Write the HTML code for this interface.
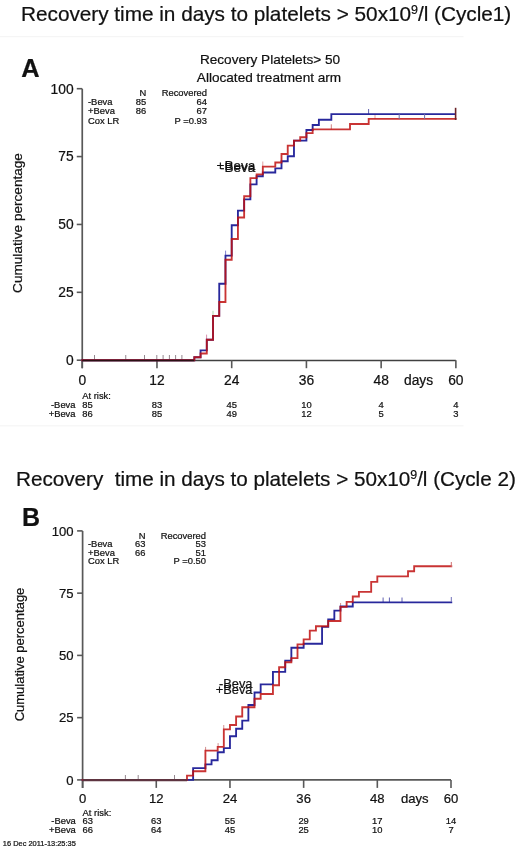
<!DOCTYPE html><html><head><meta charset="utf-8"><style>html,body{margin:0;padding:0;background:#fff;}svg{display:block;will-change:transform;}text{font-family:"Liberation Sans",sans-serif;fill:#111;stroke:#111;stroke-width:0.22px;}</style></head><body>
<svg width="520" height="848" viewBox="0 0 520 848">
<rect x="0" y="36" width="463.5" height="1.2" fill="#f5f5f5"/>
<rect x="0" y="425.2" width="463.5" height="1.2" fill="#f5f5f5"/>
<text x="21" y="20.8" font-size="20.8" textLength="490.3" lengthAdjust="spacing" xml:space="preserve">Recovery time in days to platelets &gt; 50x10<tspan font-size="12.48" dy="-6.6">9</tspan><tspan dy="6.6">/l (Cycle1)</tspan></text>
<text x="16" y="485.8" font-size="20.7" textLength="499.8" lengthAdjust="spacing" xml:space="preserve">Recovery  time in days to platelets &gt; 50x10<tspan font-size="12.42" dy="-6.6">9</tspan><tspan dy="6.6">/l (Cycle 2)</tspan></text>
<text x="21.3" y="77.2" font-size="25.4" font-weight="bold">A</text>
<text x="22.0" y="526.4" font-size="25" font-weight="bold">B</text>
<path d="M82.25,88.70 V368.20" fill="none" stroke="#585858" stroke-width="1.7"/>
<path d="M82.25,360.55 H455.87" fill="none" stroke="#404040" stroke-width="1.5"/>
<path d="M76.75,360.20 H82.25" stroke="#585858" stroke-width="1.6"/>
<text x="73.60" y="365.00" font-size="13.8" text-anchor="end">0</text>
<path d="M76.75,292.32 H82.25" stroke="#585858" stroke-width="1.6"/>
<text x="73.60" y="297.12" font-size="13.8" text-anchor="end">25</text>
<path d="M76.75,224.45 H82.25" stroke="#585858" stroke-width="1.6"/>
<text x="73.60" y="229.25" font-size="13.8" text-anchor="end">50</text>
<path d="M76.75,156.57 H82.25" stroke="#585858" stroke-width="1.6"/>
<text x="73.60" y="161.38" font-size="13.8" text-anchor="end">75</text>
<path d="M76.75,88.70 H82.25" stroke="#585858" stroke-width="1.6"/>
<text x="73.60" y="93.50" font-size="13.8" text-anchor="end">100</text>
<path d="M82.25,360.20 V368.20" stroke="#585858" stroke-width="1.6"/>
<text x="82.25" y="385.10" font-size="13.8" text-anchor="middle">0</text>
<path d="M156.97,360.20 V368.20" stroke="#585858" stroke-width="1.6"/>
<text x="156.97" y="385.10" font-size="13.8" text-anchor="middle">12</text>
<path d="M231.70,360.20 V368.20" stroke="#585858" stroke-width="1.6"/>
<text x="231.70" y="385.10" font-size="13.8" text-anchor="middle">24</text>
<path d="M306.42,360.20 V368.20" stroke="#585858" stroke-width="1.6"/>
<text x="306.42" y="385.10" font-size="13.8" text-anchor="middle">36</text>
<path d="M381.15,360.20 V368.20" stroke="#585858" stroke-width="1.6"/>
<text x="381.15" y="385.10" font-size="13.8" text-anchor="middle">48</text>
<path d="M455.87,360.20 V368.20" stroke="#585858" stroke-width="1.6"/>
<text x="455.87" y="385.10" font-size="13.8" text-anchor="middle">60</text>
<text x="404.00" y="385.10" font-size="13.8">days</text>
<text x="0" y="0" font-size="13.6" text-anchor="middle" transform="translate(21.5,223) rotate(-90)">Cumulative percentage</text>
<text x="270" y="64" font-size="13.6" text-anchor="middle">Recovery Platelets&gt; 50</text>
<text x="269" y="81.7" font-size="13.6" text-anchor="middle">Allocated treatment arm</text>
<text x="146.2" y="95.75" font-size="9.4" text-anchor="end">N</text>
<text x="207.0" y="95.75" font-size="9.4" text-anchor="end">Recovered</text>
<text x="88" y="105.00" font-size="9.4">-Beva</text>
<text x="146.2" y="105.00" font-size="9.4" text-anchor="end">85</text>
<text x="207.0" y="105.00" font-size="9.4" text-anchor="end">64</text>
<text x="88" y="114.25" font-size="9.4">+Beva</text>
<text x="146.2" y="114.25" font-size="9.4" text-anchor="end">86</text>
<text x="207.0" y="114.25" font-size="9.4" text-anchor="end">67</text>
<text x="88" y="123.50" font-size="9.4">Cox LR</text>
<text x="207.0" y="123.50" font-size="9.4" text-anchor="end">P =0.93</text>
<text x="82.25" y="398.60" font-size="9.4">At risk:</text>
<text x="75.50" y="407.60" font-size="9.4" text-anchor="end">-Beva</text>
<text x="82.25" y="407.60" font-size="9.4">85</text>
<text x="156.97" y="407.60" font-size="9.4" text-anchor="middle">83</text>
<text x="231.70" y="407.60" font-size="9.4" text-anchor="middle">45</text>
<text x="306.42" y="407.60" font-size="9.4" text-anchor="middle">10</text>
<text x="381.15" y="407.60" font-size="9.4" text-anchor="middle">4</text>
<text x="455.87" y="407.60" font-size="9.4" text-anchor="middle">4</text>
<text x="75.50" y="416.60" font-size="9.4" text-anchor="end">+Beva</text>
<text x="82.25" y="416.60" font-size="9.4">86</text>
<text x="156.97" y="416.60" font-size="9.4" text-anchor="middle">85</text>
<text x="231.70" y="416.60" font-size="9.4" text-anchor="middle">49</text>
<text x="306.42" y="416.60" font-size="9.4" text-anchor="middle">12</text>
<text x="381.15" y="416.60" font-size="9.4" text-anchor="middle">5</text>
<text x="455.87" y="416.60" font-size="9.4" text-anchor="middle">3</text>
<path d="M94.5,355 V360" stroke="#958890" stroke-width="1"/>
<path d="M125.75,355 V360" stroke="#958890" stroke-width="1"/>
<path d="M144.5,355 V360" stroke="#958890" stroke-width="1"/>
<path d="M156.8,355 V360" stroke="#958890" stroke-width="1"/>
<path d="M163.1,355 V360" stroke="#958890" stroke-width="1"/>
<path d="M169.4,355 V360" stroke="#958890" stroke-width="1"/>
<path d="M175.6,355 V360" stroke="#958890" stroke-width="1"/>
<path d="M181.9,355 V360" stroke="#958890" stroke-width="1"/>
<path d="M206.6,334.6 V339.6" stroke="#d890b0" stroke-width="1"/>
<path d="M213.0,310.8 V315.8" stroke="#b0d8b0" stroke-width="1"/>
<path d="M225.6,250.6 V255.6" stroke="#8080d0" stroke-width="1"/>
<path d="M262.8,161.5 V166.6" stroke="#e0a0a0" stroke-width="1"/>
<path d="M331.3,124.3 V129.3" stroke="#d08080" stroke-width="1"/>
<path d="M368.6,109 V114.1" stroke="#6060b0" stroke-width="1"/>
<path d="M375.0,114 V118.9" stroke="#e0a0a0" stroke-width="1"/>
<path d="M82.25,360.20 H194.34 V357.20 H200.56 V350.40 H206.79 V339.70 H213.02 V315.90 H219.24 V283.75 H225.47 V255.60 H231.70 V225.25 H237.93 V210.60 H244.15 V199.40 H250.38 V184.40 H256.61 V176.25 H262.83 V172.50 H275.29 V168.30 H281.51 V161.25 H287.74 V156.25 H293.97 V140.60 H306.42 V130.00 H312.65 V125.00 H318.88 V119.75 H331.33 V114.10 H455.00" fill="none" stroke="#28289c" stroke-width="1.85" stroke-linejoin="miter" stroke-linecap="square"/>
<path d="M82.25,360.20 H194.34 V357.20 H200.56 V353.50 H206.79 V339.70 H213.02 V315.90 H219.24 V302.00 H225.47 V259.75 H231.70 V239.00 H237.93 V217.50 H244.15 V196.25 H250.38 V178.10 H256.61 V174.40 H262.83 V166.60 H275.29 V162.50 H281.51 V154.00 H287.74 V145.60 H293.97 V140.60 H300.20 V137.25 H306.42 V133.10 H312.65 V129.30 H350.01 V124.00 H368.69 V118.90 H455.60" fill="none" stroke="#c01010" stroke-opacity="0.85" stroke-width="1.85" stroke-linejoin="miter" stroke-linecap="square"/>
<path d="M455.6,107.8 V120" stroke="#6a2228" stroke-width="1.6"/>
<path d="M82.25,360.60 H194.34" stroke="#2a1014" stroke-width="1.5"/>
<path d="M399.2,114 V119 M424.6,114 V119" stroke="#7070a8" stroke-width="1"/>
<text x="255.2" y="172.2" font-size="13.5" text-anchor="end">-Beva</text>
<text x="255.2" y="169.7" font-size="13.5" text-anchor="end">+Beva</text>
<path d="M82.60,530.90 V787.90" fill="none" stroke="#585858" stroke-width="1.7"/>
<path d="M82.60,779.90 H451.00" fill="none" stroke="#585858" stroke-width="1.7"/>
<path d="M77.10,779.90 H82.60" stroke="#585858" stroke-width="1.6"/>
<text x="73.50" y="784.50" font-size="13.1" text-anchor="end">0</text>
<path d="M77.10,717.65 H82.60" stroke="#585858" stroke-width="1.6"/>
<text x="73.50" y="722.25" font-size="13.1" text-anchor="end">25</text>
<path d="M77.10,655.40 H82.60" stroke="#585858" stroke-width="1.6"/>
<text x="73.50" y="660.00" font-size="13.1" text-anchor="end">50</text>
<path d="M77.10,593.15 H82.60" stroke="#585858" stroke-width="1.6"/>
<text x="73.50" y="597.75" font-size="13.1" text-anchor="end">75</text>
<path d="M77.10,530.90 H82.60" stroke="#585858" stroke-width="1.6"/>
<text x="73.50" y="535.50" font-size="13.1" text-anchor="end">100</text>
<path d="M82.60,779.90 V787.90" stroke="#585858" stroke-width="1.6"/>
<text x="82.60" y="802.60" font-size="13.1" text-anchor="middle">0</text>
<path d="M156.28,779.90 V787.90" stroke="#585858" stroke-width="1.6"/>
<text x="156.28" y="802.60" font-size="13.1" text-anchor="middle">12</text>
<path d="M229.96,779.90 V787.90" stroke="#585858" stroke-width="1.6"/>
<text x="229.96" y="802.60" font-size="13.1" text-anchor="middle">24</text>
<path d="M303.64,779.90 V787.90" stroke="#585858" stroke-width="1.6"/>
<text x="303.64" y="802.60" font-size="13.1" text-anchor="middle">36</text>
<path d="M377.32,779.90 V787.90" stroke="#585858" stroke-width="1.6"/>
<text x="377.32" y="802.60" font-size="13.1" text-anchor="middle">48</text>
<path d="M451.00,779.90 V787.90" stroke="#585858" stroke-width="1.6"/>
<text x="451.00" y="802.60" font-size="13.1" text-anchor="middle">60</text>
<text x="401.00" y="802.60" font-size="13.1">days</text>
<text x="0" y="0" font-size="13.0" text-anchor="middle" transform="translate(23.5,654.5) rotate(-90)">Cumulative percentage</text>
<text x="145.5" y="538.5" font-size="9.4" text-anchor="end">N</text>
<text x="206.0" y="538.5" font-size="9.4" text-anchor="end">Recovered</text>
<text x="88" y="547.10" font-size="9.4">-Beva</text>
<text x="145.5" y="547.10" font-size="9.4" text-anchor="end">63</text>
<text x="206.0" y="547.10" font-size="9.4" text-anchor="end">53</text>
<text x="88" y="555.70" font-size="9.4">+Beva</text>
<text x="145.5" y="555.70" font-size="9.4" text-anchor="end">66</text>
<text x="206.0" y="555.70" font-size="9.4" text-anchor="end">51</text>
<text x="88" y="564.30" font-size="9.4">Cox LR</text>
<text x="206.0" y="564.30" font-size="9.4" text-anchor="end">P =0.50</text>
<text x="82.60" y="815.50" font-size="9.4">At risk:</text>
<text x="75.80" y="824.15" font-size="9.4" text-anchor="end">-Beva</text>
<text x="82.60" y="824.15" font-size="9.4">63</text>
<text x="156.28" y="824.15" font-size="9.4" text-anchor="middle">63</text>
<text x="229.96" y="824.15" font-size="9.4" text-anchor="middle">55</text>
<text x="303.64" y="824.15" font-size="9.4" text-anchor="middle">29</text>
<text x="377.32" y="824.15" font-size="9.4" text-anchor="middle">17</text>
<text x="451.00" y="824.15" font-size="9.4" text-anchor="middle">14</text>
<text x="75.80" y="832.80" font-size="9.4" text-anchor="end">+Beva</text>
<text x="82.60" y="832.80" font-size="9.4">66</text>
<text x="156.28" y="832.80" font-size="9.4" text-anchor="middle">64</text>
<text x="229.96" y="832.80" font-size="9.4" text-anchor="middle">45</text>
<text x="303.64" y="832.80" font-size="9.4" text-anchor="middle">25</text>
<text x="377.32" y="832.80" font-size="9.4" text-anchor="middle">10</text>
<text x="451.00" y="832.80" font-size="9.4" text-anchor="middle">7</text>
<path d="M125.4,775 V780" stroke="#958890" stroke-width="1"/>
<path d="M138.2,775 V780" stroke="#958890" stroke-width="1"/>
<path d="M174.5,775 V780" stroke="#958890" stroke-width="1"/>
<path d="M205.6,746.9 V750.6" stroke="#d09090" stroke-width="1"/>
<path d="M218.1,743.1 V746.9" stroke="#d09090" stroke-width="1"/>
<path d="M223.75,725 V729.4" stroke="#d09090" stroke-width="1"/>
<path d="M340.6,603 V607" stroke="#d09090" stroke-width="1"/>
<path d="M383.1,597.5 V602" stroke="#6060b0" stroke-width="1"/>
<path d="M389.4,597.5 V602" stroke="#6060b0" stroke-width="1"/>
<path d="M402,597.5 V602" stroke="#6060b0" stroke-width="1"/>
<path d="M82.60,779.90 H193.12 V768.10 H205.40 V764.40 H211.54 V760.25 H217.68 V752.25 H223.82 V748.10 H229.96 V736.25 H236.10 V728.75 H242.24 V720.60 H248.38 V705.00 H254.52 V692.50 H260.66 V684.40 H272.94 V671.90 H285.22 V660.60 H291.36 V647.75 H303.64 V643.75 H322.06 V626.90 H328.20 V619.40 H334.34 V610.60 H340.48 V606.50 H352.76 V602.30 H451.30" fill="none" stroke="#28289c" stroke-width="1.85" stroke-linejoin="miter" stroke-linecap="square"/>
<path d="M82.60,779.90 H186.98 V775.60 H193.12 V771.25 H205.40 V750.60 H217.68 V746.90 H223.82 V729.40 H229.96 V725.00 H236.10 V716.50 H242.24 V707.25 H254.52 V698.75 H260.66 V694.00 H272.94 V685.25 H279.08 V667.25 H285.22 V662.25 H291.36 V658.10 H297.50 V644.40 H303.64 V639.40 H309.78 V630.60 H315.92 V626.25 H328.20 V621.00 H340.48 V606.90 H346.62 V601.90 H352.76 V596.50 H358.90 V591.90 H371.18 V581.90 H377.32 V576.40 H408.02 V571.20 H414.16 V566.25 H451.30" fill="none" stroke="#c01010" stroke-opacity="0.85" stroke-width="1.85" stroke-linejoin="miter" stroke-linecap="square"/>
<path d="M451.3,562 V567" stroke="#d07070" stroke-width="1"/>
<path d="M451.3,597 V602" stroke="#7070b8" stroke-width="1"/>
<path d="M82.60,780.10 H186.98" stroke="#5e3440" stroke-width="2.1"/>
<text x="252.5" y="687.8" font-size="12.8" text-anchor="end">-Beva</text>
<text x="252.5" y="694.4" font-size="12.8" text-anchor="end">+Beva</text>
<text x="2.8" y="845.7" font-size="7.45">16 Dec 2011-13:25:35</text>
</svg></body></html>
